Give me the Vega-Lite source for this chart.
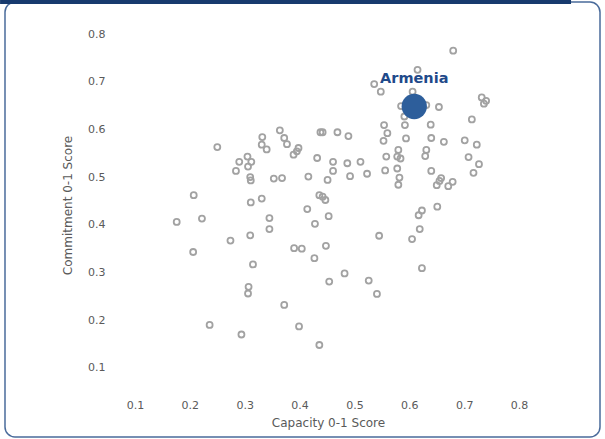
{
  "$schema": "https://vega.github.io/schema/vega-lite/v6.json",
  "width": 595,
  "height": 435,
  "autosize": "none",
  "padding": {"left": 5, "top": 2, "right": 5, "bottom": 2},
  "background": "white",
  "config": {
    "view": {"stroke": "#4a6b9b", "strokeWidth": 1.5, "cornerRadius": 10},
    "axis": {
      "labelFont": "DejaVu Sans", "labelFontSize": 11, "labelColor": "#5a5a5a",
      "titleFont": "DejaVu Sans", "titleFontSize": 12, "titleColor": "#5a5a5a", "titleFontWeight": "normal",
      "ticks": false, "tickSize": 0, "domain": false, "grid": false, "labelPadding": 0, "minExtent": 0
    }
  },
  "datasets": {
    "others": [
      {"capacity": 0.680, "commitment": 0.765}, {"capacity": 0.615, "commitment": 0.725},
      {"capacity": 0.536, "commitment": 0.695}, {"capacity": 0.548, "commitment": 0.679},
      {"capacity": 0.606, "commitment": 0.679}, {"capacity": 0.585, "commitment": 0.649},
      {"capacity": 0.631, "commitment": 0.651}, {"capacity": 0.591, "commitment": 0.627},
      {"capacity": 0.654, "commitment": 0.647}, {"capacity": 0.732, "commitment": 0.667},
      {"capacity": 0.740, "commitment": 0.660}, {"capacity": 0.736, "commitment": 0.654},
      {"capacity": 0.714, "commitment": 0.621}, {"capacity": 0.554, "commitment": 0.609},
      {"capacity": 0.592, "commitment": 0.609}, {"capacity": 0.639, "commitment": 0.610},
      {"capacity": 0.469, "commitment": 0.594}, {"capacity": 0.489, "commitment": 0.586},
      {"capacity": 0.438, "commitment": 0.594}, {"capacity": 0.442, "commitment": 0.594},
      {"capacity": 0.560, "commitment": 0.592}, {"capacity": 0.553, "commitment": 0.576},
      {"capacity": 0.594, "commitment": 0.581}, {"capacity": 0.640, "commitment": 0.582},
      {"capacity": 0.663, "commitment": 0.574}, {"capacity": 0.701, "commitment": 0.577},
      {"capacity": 0.723, "commitment": 0.568}, {"capacity": 0.580, "commitment": 0.557},
      {"capacity": 0.631, "commitment": 0.557}, {"capacity": 0.629, "commitment": 0.544},
      {"capacity": 0.558, "commitment": 0.543}, {"capacity": 0.578, "commitment": 0.543},
      {"capacity": 0.584, "commitment": 0.539}, {"capacity": 0.708, "commitment": 0.542},
      {"capacity": 0.727, "commitment": 0.527}, {"capacity": 0.432, "commitment": 0.540},
      {"capacity": 0.461, "commitment": 0.532}, {"capacity": 0.487, "commitment": 0.529},
      {"capacity": 0.511, "commitment": 0.532}, {"capacity": 0.461, "commitment": 0.513},
      {"capacity": 0.492, "commitment": 0.502}, {"capacity": 0.523, "commitment": 0.507},
      {"capacity": 0.556, "commitment": 0.514}, {"capacity": 0.578, "commitment": 0.518},
      {"capacity": 0.582, "commitment": 0.499}, {"capacity": 0.580, "commitment": 0.484},
      {"capacity": 0.640, "commitment": 0.513}, {"capacity": 0.717, "commitment": 0.509},
      {"capacity": 0.658, "commitment": 0.498}, {"capacity": 0.655, "commitment": 0.492},
      {"capacity": 0.650, "commitment": 0.483}, {"capacity": 0.671, "commitment": 0.481},
      {"capacity": 0.679, "commitment": 0.490}, {"capacity": 0.451, "commitment": 0.494},
      {"capacity": 0.416, "commitment": 0.501}, {"capacity": 0.436, "commitment": 0.462},
      {"capacity": 0.442, "commitment": 0.459}, {"capacity": 0.447, "commitment": 0.452},
      {"capacity": 0.651, "commitment": 0.438}, {"capacity": 0.623, "commitment": 0.430},
      {"capacity": 0.617, "commitment": 0.420}, {"capacity": 0.619, "commitment": 0.391},
      {"capacity": 0.605, "commitment": 0.370}, {"capacity": 0.545, "commitment": 0.377},
      {"capacity": 0.623, "commitment": 0.309}, {"capacity": 0.482, "commitment": 0.298},
      {"capacity": 0.526, "commitment": 0.283}, {"capacity": 0.454, "commitment": 0.281},
      {"capacity": 0.541, "commitment": 0.255}, {"capacity": 0.453, "commitment": 0.418},
      {"capacity": 0.414, "commitment": 0.433}, {"capacity": 0.428, "commitment": 0.402},
      {"capacity": 0.448, "commitment": 0.356}, {"capacity": 0.427, "commitment": 0.330},
      {"capacity": 0.390, "commitment": 0.351}, {"capacity": 0.404, "commitment": 0.350},
      {"capacity": 0.436, "commitment": 0.148}, {"capacity": 0.399, "commitment": 0.187},
      {"capacity": 0.372, "commitment": 0.232}, {"capacity": 0.345, "commitment": 0.414},
      {"capacity": 0.345, "commitment": 0.391}, {"capacity": 0.331, "commitment": 0.455},
      {"capacity": 0.311, "commitment": 0.447}, {"capacity": 0.310, "commitment": 0.378},
      {"capacity": 0.315, "commitment": 0.317}, {"capacity": 0.307, "commitment": 0.270},
      {"capacity": 0.306, "commitment": 0.256}, {"capacity": 0.294, "commitment": 0.170},
      {"capacity": 0.274, "commitment": 0.367}, {"capacity": 0.236, "commitment": 0.190},
      {"capacity": 0.222, "commitment": 0.413}, {"capacity": 0.206, "commitment": 0.343},
      {"capacity": 0.207, "commitment": 0.462}, {"capacity": 0.176, "commitment": 0.406},
      {"capacity": 0.250, "commitment": 0.563}, {"capacity": 0.284, "commitment": 0.513},
      {"capacity": 0.290, "commitment": 0.532}, {"capacity": 0.305, "commitment": 0.543},
      {"capacity": 0.312, "commitment": 0.532}, {"capacity": 0.306, "commitment": 0.522},
      {"capacity": 0.310, "commitment": 0.500}, {"capacity": 0.311, "commitment": 0.493},
      {"capacity": 0.332, "commitment": 0.584}, {"capacity": 0.331, "commitment": 0.568},
      {"capacity": 0.340, "commitment": 0.558}, {"capacity": 0.364, "commitment": 0.598},
      {"capacity": 0.372, "commitment": 0.582}, {"capacity": 0.377, "commitment": 0.569},
      {"capacity": 0.398, "commitment": 0.561}, {"capacity": 0.395, "commitment": 0.554},
      {"capacity": 0.389, "commitment": 0.547}, {"capacity": 0.353, "commitment": 0.497},
      {"capacity": 0.368, "commitment": 0.498}
    ],
    "armenia": [
      {"country": "Armenia", "capacity": 0.609, "commitment": 0.648}
    ]
  },
  "layer": [
    {
      "data": {"values": [{"a": 1}]},
      "mark": {"type": "rule", "color": "#173a6e", "strokeWidth": 4, "strokeCap": "butt"},
      "encoding": {
        "x": {"datum": -0.146, "type": "quantitative", "scale": {"domain": [-0.137, 0.9476], "nice": false, "zero": false}},
        "x2": {"datum": 0.8948},
        "y": {"datum": 0.8671, "type": "quantitative", "scale": {"domain": [-0.0449, 0.8671], "nice": false, "zero": false}}
      }
    },
    {
      "data": {"name": "others"},
      "mark": {"type": "point", "shape": "circle", "filled": false, "size": 36, "stroke": "#a2a2a2", "strokeWidth": 1.8, "opacity": 1},
      "encoding": {
        "x": {
          "field": "capacity", "type": "quantitative",
          "scale": {"domain": [-0.137, 0.9476], "nice": false, "zero": false},
          "axis": {
            "title": "Capacity 0-1 Score", "values": [0.1, 0.2, 0.3, 0.4, 0.5, 0.6, 0.7, 0.8], "format": ".1f",
            "offset": -32, "labelBaseline": "middle", "titlePadding": 7, "titleX": 323
          }
        },
        "y": {
          "field": "commitment", "type": "quantitative",
          "scale": {"domain": [-0.0449, 0.8671], "nice": false, "zero": false},
          "axis": {
            "title": "Commitment 0-1 Score", "values": [0.1, 0.2, 0.3, 0.4, 0.5, 0.6, 0.7, 0.8], "format": ".1f",
            "offset": -100, "titlePadding": 13, "titleY": 203
          }
        }
      }
    },
    {
      "data": {"name": "armenia"},
      "mark": {"type": "circle", "size": 640, "color": "#2d5e9b", "opacity": 1},
      "encoding": {
        "x": {"field": "capacity", "type": "quantitative"},
        "y": {"field": "commitment", "type": "quantitative"}
      }
    },
    {
      "data": {"name": "armenia"},
      "mark": {"type": "text", "font": "DejaVu Sans", "fontSize": 14.5, "fontWeight": "bold", "color": "#1f4a8a", "align": "center", "baseline": "alphabetic", "dy": -24},
      "encoding": {
        "x": {"field": "capacity", "type": "quantitative"},
        "y": {"field": "commitment", "type": "quantitative"},
        "text": {"field": "country"}
      }
    }
  ]
}
